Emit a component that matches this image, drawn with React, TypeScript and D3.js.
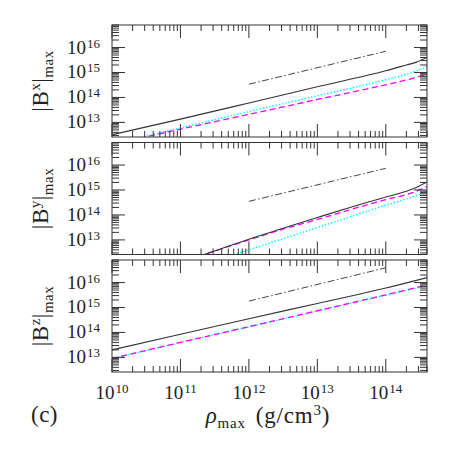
import React from "react";
import * as d3 from "d3";

// density grid for each panel (g/cm^3)
const rhoX = [1e10, 1e11, 1e12, 1e13, 1e14, 2e14, 2.8e14, 4e14];
const bxSolid = [3.2e12, 1.35e13, 6.0e13, 2.7e14, 1.17e15, 2.0e15, 2.6e15, 4.0e15];
const bxCyan = [1.26e12, 6.0e12, 2.7e13, 1.17e14, 5.1e14, 8.5e14, 1.15e15, 1.74e15];
const bxMagenta = [1.26e12, 5.4e12, 2.1e13, 8.3e13, 3.2e14, 5.0e14, 6.3e14, 8.9e14];

const rhoY = [1e11, 3e11, 1e12, 3e12, 1e13, 3e13, 1e14, 2e14, 2.8e14, 4e14];
const bySolid = [1.26e12, 3.4e12, 1.07e13, 2.8e13, 7.9e13, 2.0e14, 5.2e14, 8.9e14, 1.26e15, 2.1e15];
const byMagenta = [1.26e12, 3.4e12, 1.0e13, 2.6e13, 6.6e13, 1.62e14, 4.1e14, 6.6e14, 8.9e14, 1.38e15];
const byCyan = [5.0e11, 1.35e12, 4.0e12, 1.07e13, 3.1e13, 8.3e13, 2.45e14, 4.4e14, 6.0e14, 8.7e14];

const rhoZ = [1e10, 1e11, 1e12, 1e13, 1e14, 4e14];
const bzSolid = [2.0e13, 8.5e13, 3.55e14, 1.45e15, 6.0e15, 1.58e16];
const bzMagenta = [9.1e12, 4.0e13, 1.7e14, 7.4e14, 3.2e15, 7.9e15];
const bzCyan = [8.9e12, 3.9e13, 1.66e14, 7.2e14, 3.1e15, 7.4e15];

// reference slope lines
const rhoRef = [1e12, 1e14];
const bxRef = [3.4e14, 7.1e15];
const byRef = [3.5e14, 7.4e15];
const bzRef = [1.8e15, 3.9e16];

const xTickExps = [10, 11, 12, 13, 14];
const yTickExps = [13, 14, 15, 16];
const xDomain = [1e10, 4e14];
const yDomain = [2.6e12, 8e16];

const panels = [
  { comp: "x", rho: rhoX, solid: bxSolid, cyan: bxCyan, magenta: bxMagenta, ref: bxRef, refRho: rhoRef },
  { comp: "y", rho: rhoY, solid: bySolid, cyan: byCyan, magenta: byMagenta, ref: byRef, refRho: rhoRef },
  { comp: "z", rho: rhoZ, solid: bzSolid, cyan: bzCyan, magenta: bzMagenta, ref: bzRef, refRho: rhoRef },
];

const left = 112;
const right = 427;
const panelTops = [25, 142.5, 260];
const panelH = 112;
const font = "'Liberation Serif', 'Times New Roman', serif";
const axisColor = "#333";

function minorTicks(lo: number, hi: number) {
  const out: { v: number; major: boolean }[] = [];
  for (let e = Math.floor(Math.log10(lo)); e <= Math.ceil(Math.log10(hi)); e++) {
    for (let m = 1; m <= 9; m++) {
      const v = m * Math.pow(10, e);
      if (v >= lo * 0.999 && v <= hi * 1.001) out.push({ v, major: m === 1 });
    }
  }
  return out;
}

function Panel({ p, idx }: { p: any; idx: number }) {
  const top = panelTops[idx];
  const bottom = top + panelH;
  const x = d3.scaleLog().domain(xDomain).range([left, right]);
  const y = d3.scaleLog().domain(yDomain).range([bottom, top]);
  const line = (xs: number[], ys: number[]) =>
    d3
      .line<number>()
      .x((_, i) => x(xs[i]))
      .y((d) => y(d))
      .curve(d3.curveMonotoneX)(ys) || "";
  const clipId = `clip-${idx}`;
  const xt = minorTicks(xDomain[0], xDomain[1]);
  const yt = minorTicks(yDomain[0], yDomain[1]);
  const cy = (top + bottom) / 2;
  return (
    <g>
      <defs>
        <clipPath id={clipId}>
          <rect x={left} y={top} width={right - left} height={panelH} />
        </clipPath>
      </defs>
      <g clipPath={`url(#${clipId})`} fill="none">
        <path d={line(p.refRho, p.ref)} stroke="#444" strokeWidth={1} strokeDasharray="7,2.5,1.5,2.5" />
        <path d={line(p.rho, p.cyan)} stroke="#00ffff" strokeWidth={1.4} strokeDasharray="1.5,1.8" />
        <path d={line(p.rho, p.magenta)} stroke="#ff00ff" strokeWidth={1.3} strokeDasharray="6,3.5" />
        <path d={line(p.rho, p.solid)} stroke="#333" strokeWidth={1.1} />
      </g>
      {/* frame */}
      <rect x={left} y={top} width={right - left} height={panelH} fill="none" stroke={axisColor} strokeWidth={1} />
      {/* x ticks, top and bottom, inward */}
      {xt.map((t, i) => {
        const len = t.major ? 13 : 6;
        const xx = x(t.v);
        return (
          <g key={`xt${i}`} stroke={axisColor} strokeWidth={1}>
            <line x1={xx} x2={xx} y1={top} y2={top + len} />
            <line x1={xx} x2={xx} y1={bottom} y2={bottom - len} />
          </g>
        );
      })}
      {/* y ticks, left and right, inward */}
      {yt.map((t, i) => {
        const len = t.major ? 13 : 7;
        const yy = y(t.v);
        return (
          <g key={`yt${i}`} stroke={axisColor} strokeWidth={1}>
            <line x1={left} x2={left + len} y1={yy} y2={yy} />
            <line x1={right} x2={right - len} y1={yy} y2={yy} />
          </g>
        );
      })}
      {/* y tick labels */}
      {yTickExps.map((e) => (
        <text key={`yl${e}`} x={100} y={y(Math.pow(10, e)) + 6} textAnchor="end" fontFamily={font} fontSize={19} fill="#222">
          10
          <tspan dx={1} dy={-6} fontSize={13}>{e}</tspan>
        </text>
      ))}
      {/* y axis label */}
      <text transform={`translate(48,${cy}) rotate(-90)`} textAnchor="middle" fontFamily={font} fontSize={23} fill="#222" letterSpacing={0.5}>
        |B
        <tspan dy={-8} fontSize={15}>{p.comp}</tspan>
        <tspan dy={8}>|</tspan>
        <tspan dy={5} fontSize={15}>max</tspan>
      </text>
      {idx === 2 &&
        xTickExps.map((e) => (
          <text key={`xl${e}`} x={x(Math.pow(10, e))} y={398.5} textAnchor="middle" fontFamily={font} fontSize={19} fill="#222">
            10
            <tspan dx={1} dy={-6} fontSize={13}>{e}</tspan>
          </text>
        ))}
    </g>
  );
}

export default function App() {
  return (
    <svg width={457} height={457} style={{ display: "block", position: "absolute", left: 0, top: 0 }}>
      <rect width={457} height={457} fill="#fff" />
      {panels.map((p, i) => (
        <Panel key={p.comp} p={p} idx={i} />
      ))}
      <text x={31} y={422} fontFamily={font} fontSize={23} fill="#222" letterSpacing={0.5}>
        (c)
      </text>
      <text x={268} y={423} textAnchor="middle" fontFamily={font} fontSize={23} fill="#222" letterSpacing={0.8}>
        <tspan fontStyle="italic">ρ</tspan>
        <tspan dy={5} fontSize={15}>max</tspan>
        <tspan dx={10} dy={-5}>(g/cm</tspan>
        <tspan dy={-8} fontSize={15}>3</tspan>
        <tspan dy={8}>)</tspan>
      </text>
    </svg>
  );
}
